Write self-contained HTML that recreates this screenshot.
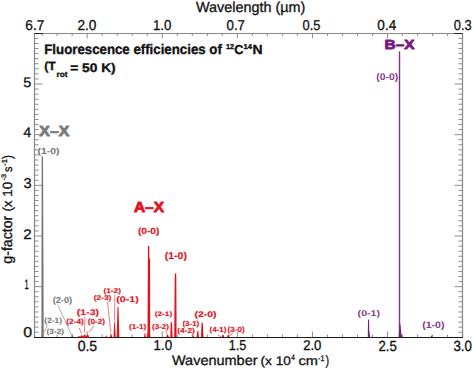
<!DOCTYPE html>
<html><head><meta charset="utf-8"><style>
html,body{margin:0;padding:0;background:#fff;width:473px;height:369px;overflow:hidden}
svg{display:block;font-family:'Liberation Sans', sans-serif;text-rendering:geometricPrecision}
</style></head><body>
<svg width="473" height="369" viewBox="0 0 473 369">
<rect width="473" height="369" fill="#fff"/>
<line x1="42.13" y1="337.5" x2="42.13" y2="334.5" stroke="#8e8e8e" stroke-width="1"/>
<line x1="42.13" y1="33.5" x2="42.13" y2="36.0" stroke="#8e8e8e" stroke-width="1"/>
<line x1="57.15" y1="337.5" x2="57.15" y2="334.5" stroke="#8e8e8e" stroke-width="1"/>
<line x1="57.15" y1="33.5" x2="57.15" y2="36.0" stroke="#8e8e8e" stroke-width="1"/>
<line x1="72.17" y1="337.5" x2="72.17" y2="334.5" stroke="#8e8e8e" stroke-width="1"/>
<line x1="72.17" y1="33.5" x2="72.17" y2="36.0" stroke="#8e8e8e" stroke-width="1"/>
<line x1="87.18" y1="337.5" x2="87.18" y2="331.5" stroke="#8e8e8e" stroke-width="1"/>
<line x1="87.18" y1="33.5" x2="87.18" y2="38.5" stroke="#8e8e8e" stroke-width="1"/>
<line x1="102.20" y1="337.5" x2="102.20" y2="334.5" stroke="#8e8e8e" stroke-width="1"/>
<line x1="102.20" y1="33.5" x2="102.20" y2="36.0" stroke="#8e8e8e" stroke-width="1"/>
<line x1="117.22" y1="337.5" x2="117.22" y2="334.5" stroke="#8e8e8e" stroke-width="1"/>
<line x1="117.22" y1="33.5" x2="117.22" y2="36.0" stroke="#8e8e8e" stroke-width="1"/>
<line x1="132.24" y1="337.5" x2="132.24" y2="334.5" stroke="#8e8e8e" stroke-width="1"/>
<line x1="132.24" y1="33.5" x2="132.24" y2="36.0" stroke="#8e8e8e" stroke-width="1"/>
<line x1="147.25" y1="337.5" x2="147.25" y2="334.5" stroke="#8e8e8e" stroke-width="1"/>
<line x1="147.25" y1="33.5" x2="147.25" y2="36.0" stroke="#8e8e8e" stroke-width="1"/>
<line x1="162.27" y1="337.5" x2="162.27" y2="331.5" stroke="#8e8e8e" stroke-width="1"/>
<line x1="162.27" y1="33.5" x2="162.27" y2="38.5" stroke="#8e8e8e" stroke-width="1"/>
<line x1="177.29" y1="337.5" x2="177.29" y2="334.5" stroke="#8e8e8e" stroke-width="1"/>
<line x1="177.29" y1="33.5" x2="177.29" y2="36.0" stroke="#8e8e8e" stroke-width="1"/>
<line x1="192.30" y1="337.5" x2="192.30" y2="334.5" stroke="#8e8e8e" stroke-width="1"/>
<line x1="192.30" y1="33.5" x2="192.30" y2="36.0" stroke="#8e8e8e" stroke-width="1"/>
<line x1="207.32" y1="337.5" x2="207.32" y2="334.5" stroke="#8e8e8e" stroke-width="1"/>
<line x1="207.32" y1="33.5" x2="207.32" y2="36.0" stroke="#8e8e8e" stroke-width="1"/>
<line x1="222.34" y1="337.5" x2="222.34" y2="334.5" stroke="#8e8e8e" stroke-width="1"/>
<line x1="222.34" y1="33.5" x2="222.34" y2="36.0" stroke="#8e8e8e" stroke-width="1"/>
<line x1="237.35" y1="337.5" x2="237.35" y2="331.5" stroke="#8e8e8e" stroke-width="1"/>
<line x1="237.35" y1="33.5" x2="237.35" y2="38.5" stroke="#8e8e8e" stroke-width="1"/>
<line x1="252.37" y1="337.5" x2="252.37" y2="334.5" stroke="#8e8e8e" stroke-width="1"/>
<line x1="252.37" y1="33.5" x2="252.37" y2="36.0" stroke="#8e8e8e" stroke-width="1"/>
<line x1="267.39" y1="337.5" x2="267.39" y2="334.5" stroke="#8e8e8e" stroke-width="1"/>
<line x1="267.39" y1="33.5" x2="267.39" y2="36.0" stroke="#8e8e8e" stroke-width="1"/>
<line x1="282.41" y1="337.5" x2="282.41" y2="334.5" stroke="#8e8e8e" stroke-width="1"/>
<line x1="282.41" y1="33.5" x2="282.41" y2="36.0" stroke="#8e8e8e" stroke-width="1"/>
<line x1="297.42" y1="337.5" x2="297.42" y2="334.5" stroke="#8e8e8e" stroke-width="1"/>
<line x1="297.42" y1="33.5" x2="297.42" y2="36.0" stroke="#8e8e8e" stroke-width="1"/>
<line x1="312.44" y1="337.5" x2="312.44" y2="331.5" stroke="#8e8e8e" stroke-width="1"/>
<line x1="312.44" y1="33.5" x2="312.44" y2="38.5" stroke="#8e8e8e" stroke-width="1"/>
<line x1="327.46" y1="337.5" x2="327.46" y2="334.5" stroke="#8e8e8e" stroke-width="1"/>
<line x1="327.46" y1="33.5" x2="327.46" y2="36.0" stroke="#8e8e8e" stroke-width="1"/>
<line x1="342.47" y1="337.5" x2="342.47" y2="334.5" stroke="#8e8e8e" stroke-width="1"/>
<line x1="342.47" y1="33.5" x2="342.47" y2="36.0" stroke="#8e8e8e" stroke-width="1"/>
<line x1="357.49" y1="337.5" x2="357.49" y2="334.5" stroke="#8e8e8e" stroke-width="1"/>
<line x1="357.49" y1="33.5" x2="357.49" y2="36.0" stroke="#8e8e8e" stroke-width="1"/>
<line x1="372.51" y1="337.5" x2="372.51" y2="334.5" stroke="#8e8e8e" stroke-width="1"/>
<line x1="372.51" y1="33.5" x2="372.51" y2="36.0" stroke="#8e8e8e" stroke-width="1"/>
<line x1="387.52" y1="337.5" x2="387.52" y2="331.5" stroke="#8e8e8e" stroke-width="1"/>
<line x1="387.52" y1="33.5" x2="387.52" y2="38.5" stroke="#8e8e8e" stroke-width="1"/>
<line x1="402.54" y1="337.5" x2="402.54" y2="334.5" stroke="#8e8e8e" stroke-width="1"/>
<line x1="402.54" y1="33.5" x2="402.54" y2="36.0" stroke="#8e8e8e" stroke-width="1"/>
<line x1="417.56" y1="337.5" x2="417.56" y2="334.5" stroke="#8e8e8e" stroke-width="1"/>
<line x1="417.56" y1="33.5" x2="417.56" y2="36.0" stroke="#8e8e8e" stroke-width="1"/>
<line x1="432.58" y1="337.5" x2="432.58" y2="334.5" stroke="#8e8e8e" stroke-width="1"/>
<line x1="432.58" y1="33.5" x2="432.58" y2="36.0" stroke="#8e8e8e" stroke-width="1"/>
<line x1="447.59" y1="337.5" x2="447.59" y2="334.5" stroke="#8e8e8e" stroke-width="1"/>
<line x1="447.59" y1="33.5" x2="447.59" y2="36.0" stroke="#8e8e8e" stroke-width="1"/>
<line x1="462.61" y1="337.5" x2="462.61" y2="331.5" stroke="#8e8e8e" stroke-width="1"/>
<line x1="462.61" y1="33.5" x2="462.61" y2="38.5" stroke="#8e8e8e" stroke-width="1"/>
<line x1="34.5" y1="332.23" x2="38.5" y2="332.23" stroke="#8e8e8e" stroke-width="1"/>
<line x1="462.5" y1="332.23" x2="458.5" y2="332.23" stroke="#8e8e8e" stroke-width="1"/>
<line x1="34.5" y1="327.17" x2="38.5" y2="327.17" stroke="#8e8e8e" stroke-width="1"/>
<line x1="462.5" y1="327.17" x2="458.5" y2="327.17" stroke="#8e8e8e" stroke-width="1"/>
<line x1="34.5" y1="322.10" x2="38.5" y2="322.10" stroke="#8e8e8e" stroke-width="1"/>
<line x1="462.5" y1="322.10" x2="458.5" y2="322.10" stroke="#8e8e8e" stroke-width="1"/>
<line x1="34.5" y1="317.04" x2="38.5" y2="317.04" stroke="#8e8e8e" stroke-width="1"/>
<line x1="462.5" y1="317.04" x2="458.5" y2="317.04" stroke="#8e8e8e" stroke-width="1"/>
<line x1="34.5" y1="311.97" x2="38.5" y2="311.97" stroke="#8e8e8e" stroke-width="1"/>
<line x1="462.5" y1="311.97" x2="458.5" y2="311.97" stroke="#8e8e8e" stroke-width="1"/>
<line x1="34.5" y1="306.90" x2="38.5" y2="306.90" stroke="#8e8e8e" stroke-width="1"/>
<line x1="462.5" y1="306.90" x2="458.5" y2="306.90" stroke="#8e8e8e" stroke-width="1"/>
<line x1="34.5" y1="301.84" x2="38.5" y2="301.84" stroke="#8e8e8e" stroke-width="1"/>
<line x1="462.5" y1="301.84" x2="458.5" y2="301.84" stroke="#8e8e8e" stroke-width="1"/>
<line x1="34.5" y1="296.77" x2="38.5" y2="296.77" stroke="#8e8e8e" stroke-width="1"/>
<line x1="462.5" y1="296.77" x2="458.5" y2="296.77" stroke="#8e8e8e" stroke-width="1"/>
<line x1="34.5" y1="291.71" x2="38.5" y2="291.71" stroke="#8e8e8e" stroke-width="1"/>
<line x1="462.5" y1="291.71" x2="458.5" y2="291.71" stroke="#8e8e8e" stroke-width="1"/>
<line x1="34.5" y1="286.64" x2="42.5" y2="286.64" stroke="#8e8e8e" stroke-width="1"/>
<line x1="462.5" y1="286.64" x2="454.5" y2="286.64" stroke="#8e8e8e" stroke-width="1"/>
<line x1="34.5" y1="281.57" x2="38.5" y2="281.57" stroke="#8e8e8e" stroke-width="1"/>
<line x1="462.5" y1="281.57" x2="458.5" y2="281.57" stroke="#8e8e8e" stroke-width="1"/>
<line x1="34.5" y1="276.51" x2="38.5" y2="276.51" stroke="#8e8e8e" stroke-width="1"/>
<line x1="462.5" y1="276.51" x2="458.5" y2="276.51" stroke="#8e8e8e" stroke-width="1"/>
<line x1="34.5" y1="271.44" x2="38.5" y2="271.44" stroke="#8e8e8e" stroke-width="1"/>
<line x1="462.5" y1="271.44" x2="458.5" y2="271.44" stroke="#8e8e8e" stroke-width="1"/>
<line x1="34.5" y1="266.38" x2="38.5" y2="266.38" stroke="#8e8e8e" stroke-width="1"/>
<line x1="462.5" y1="266.38" x2="458.5" y2="266.38" stroke="#8e8e8e" stroke-width="1"/>
<line x1="34.5" y1="261.31" x2="38.5" y2="261.31" stroke="#8e8e8e" stroke-width="1"/>
<line x1="462.5" y1="261.31" x2="458.5" y2="261.31" stroke="#8e8e8e" stroke-width="1"/>
<line x1="34.5" y1="256.24" x2="38.5" y2="256.24" stroke="#8e8e8e" stroke-width="1"/>
<line x1="462.5" y1="256.24" x2="458.5" y2="256.24" stroke="#8e8e8e" stroke-width="1"/>
<line x1="34.5" y1="251.18" x2="38.5" y2="251.18" stroke="#8e8e8e" stroke-width="1"/>
<line x1="462.5" y1="251.18" x2="458.5" y2="251.18" stroke="#8e8e8e" stroke-width="1"/>
<line x1="34.5" y1="246.11" x2="38.5" y2="246.11" stroke="#8e8e8e" stroke-width="1"/>
<line x1="462.5" y1="246.11" x2="458.5" y2="246.11" stroke="#8e8e8e" stroke-width="1"/>
<line x1="34.5" y1="241.05" x2="38.5" y2="241.05" stroke="#8e8e8e" stroke-width="1"/>
<line x1="462.5" y1="241.05" x2="458.5" y2="241.05" stroke="#8e8e8e" stroke-width="1"/>
<line x1="34.5" y1="235.98" x2="42.5" y2="235.98" stroke="#8e8e8e" stroke-width="1"/>
<line x1="462.5" y1="235.98" x2="454.5" y2="235.98" stroke="#8e8e8e" stroke-width="1"/>
<line x1="34.5" y1="230.91" x2="38.5" y2="230.91" stroke="#8e8e8e" stroke-width="1"/>
<line x1="462.5" y1="230.91" x2="458.5" y2="230.91" stroke="#8e8e8e" stroke-width="1"/>
<line x1="34.5" y1="225.85" x2="38.5" y2="225.85" stroke="#8e8e8e" stroke-width="1"/>
<line x1="462.5" y1="225.85" x2="458.5" y2="225.85" stroke="#8e8e8e" stroke-width="1"/>
<line x1="34.5" y1="220.78" x2="38.5" y2="220.78" stroke="#8e8e8e" stroke-width="1"/>
<line x1="462.5" y1="220.78" x2="458.5" y2="220.78" stroke="#8e8e8e" stroke-width="1"/>
<line x1="34.5" y1="215.72" x2="38.5" y2="215.72" stroke="#8e8e8e" stroke-width="1"/>
<line x1="462.5" y1="215.72" x2="458.5" y2="215.72" stroke="#8e8e8e" stroke-width="1"/>
<line x1="34.5" y1="210.65" x2="38.5" y2="210.65" stroke="#8e8e8e" stroke-width="1"/>
<line x1="462.5" y1="210.65" x2="458.5" y2="210.65" stroke="#8e8e8e" stroke-width="1"/>
<line x1="34.5" y1="205.58" x2="38.5" y2="205.58" stroke="#8e8e8e" stroke-width="1"/>
<line x1="462.5" y1="205.58" x2="458.5" y2="205.58" stroke="#8e8e8e" stroke-width="1"/>
<line x1="34.5" y1="200.52" x2="38.5" y2="200.52" stroke="#8e8e8e" stroke-width="1"/>
<line x1="462.5" y1="200.52" x2="458.5" y2="200.52" stroke="#8e8e8e" stroke-width="1"/>
<line x1="34.5" y1="195.45" x2="38.5" y2="195.45" stroke="#8e8e8e" stroke-width="1"/>
<line x1="462.5" y1="195.45" x2="458.5" y2="195.45" stroke="#8e8e8e" stroke-width="1"/>
<line x1="34.5" y1="190.39" x2="38.5" y2="190.39" stroke="#8e8e8e" stroke-width="1"/>
<line x1="462.5" y1="190.39" x2="458.5" y2="190.39" stroke="#8e8e8e" stroke-width="1"/>
<line x1="34.5" y1="185.32" x2="42.5" y2="185.32" stroke="#8e8e8e" stroke-width="1"/>
<line x1="462.5" y1="185.32" x2="454.5" y2="185.32" stroke="#8e8e8e" stroke-width="1"/>
<line x1="34.5" y1="180.25" x2="38.5" y2="180.25" stroke="#8e8e8e" stroke-width="1"/>
<line x1="462.5" y1="180.25" x2="458.5" y2="180.25" stroke="#8e8e8e" stroke-width="1"/>
<line x1="34.5" y1="175.19" x2="38.5" y2="175.19" stroke="#8e8e8e" stroke-width="1"/>
<line x1="462.5" y1="175.19" x2="458.5" y2="175.19" stroke="#8e8e8e" stroke-width="1"/>
<line x1="34.5" y1="170.12" x2="38.5" y2="170.12" stroke="#8e8e8e" stroke-width="1"/>
<line x1="462.5" y1="170.12" x2="458.5" y2="170.12" stroke="#8e8e8e" stroke-width="1"/>
<line x1="34.5" y1="165.06" x2="38.5" y2="165.06" stroke="#8e8e8e" stroke-width="1"/>
<line x1="462.5" y1="165.06" x2="458.5" y2="165.06" stroke="#8e8e8e" stroke-width="1"/>
<line x1="34.5" y1="159.99" x2="38.5" y2="159.99" stroke="#8e8e8e" stroke-width="1"/>
<line x1="462.5" y1="159.99" x2="458.5" y2="159.99" stroke="#8e8e8e" stroke-width="1"/>
<line x1="34.5" y1="154.92" x2="38.5" y2="154.92" stroke="#8e8e8e" stroke-width="1"/>
<line x1="462.5" y1="154.92" x2="458.5" y2="154.92" stroke="#8e8e8e" stroke-width="1"/>
<line x1="34.5" y1="149.86" x2="38.5" y2="149.86" stroke="#8e8e8e" stroke-width="1"/>
<line x1="462.5" y1="149.86" x2="458.5" y2="149.86" stroke="#8e8e8e" stroke-width="1"/>
<line x1="34.5" y1="144.79" x2="38.5" y2="144.79" stroke="#8e8e8e" stroke-width="1"/>
<line x1="462.5" y1="144.79" x2="458.5" y2="144.79" stroke="#8e8e8e" stroke-width="1"/>
<line x1="34.5" y1="139.73" x2="38.5" y2="139.73" stroke="#8e8e8e" stroke-width="1"/>
<line x1="462.5" y1="139.73" x2="458.5" y2="139.73" stroke="#8e8e8e" stroke-width="1"/>
<line x1="34.5" y1="134.66" x2="42.5" y2="134.66" stroke="#8e8e8e" stroke-width="1"/>
<line x1="462.5" y1="134.66" x2="454.5" y2="134.66" stroke="#8e8e8e" stroke-width="1"/>
<line x1="34.5" y1="129.59" x2="38.5" y2="129.59" stroke="#8e8e8e" stroke-width="1"/>
<line x1="462.5" y1="129.59" x2="458.5" y2="129.59" stroke="#8e8e8e" stroke-width="1"/>
<line x1="34.5" y1="124.53" x2="38.5" y2="124.53" stroke="#8e8e8e" stroke-width="1"/>
<line x1="462.5" y1="124.53" x2="458.5" y2="124.53" stroke="#8e8e8e" stroke-width="1"/>
<line x1="34.5" y1="119.46" x2="38.5" y2="119.46" stroke="#8e8e8e" stroke-width="1"/>
<line x1="462.5" y1="119.46" x2="458.5" y2="119.46" stroke="#8e8e8e" stroke-width="1"/>
<line x1="34.5" y1="114.40" x2="38.5" y2="114.40" stroke="#8e8e8e" stroke-width="1"/>
<line x1="462.5" y1="114.40" x2="458.5" y2="114.40" stroke="#8e8e8e" stroke-width="1"/>
<line x1="34.5" y1="109.33" x2="38.5" y2="109.33" stroke="#8e8e8e" stroke-width="1"/>
<line x1="462.5" y1="109.33" x2="458.5" y2="109.33" stroke="#8e8e8e" stroke-width="1"/>
<line x1="34.5" y1="104.26" x2="38.5" y2="104.26" stroke="#8e8e8e" stroke-width="1"/>
<line x1="462.5" y1="104.26" x2="458.5" y2="104.26" stroke="#8e8e8e" stroke-width="1"/>
<line x1="34.5" y1="99.20" x2="38.5" y2="99.20" stroke="#8e8e8e" stroke-width="1"/>
<line x1="462.5" y1="99.20" x2="458.5" y2="99.20" stroke="#8e8e8e" stroke-width="1"/>
<line x1="34.5" y1="94.13" x2="38.5" y2="94.13" stroke="#8e8e8e" stroke-width="1"/>
<line x1="462.5" y1="94.13" x2="458.5" y2="94.13" stroke="#8e8e8e" stroke-width="1"/>
<line x1="34.5" y1="89.07" x2="38.5" y2="89.07" stroke="#8e8e8e" stroke-width="1"/>
<line x1="462.5" y1="89.07" x2="458.5" y2="89.07" stroke="#8e8e8e" stroke-width="1"/>
<line x1="34.5" y1="84.00" x2="42.5" y2="84.00" stroke="#8e8e8e" stroke-width="1"/>
<line x1="462.5" y1="84.00" x2="454.5" y2="84.00" stroke="#8e8e8e" stroke-width="1"/>
<line x1="34.5" y1="78.93" x2="38.5" y2="78.93" stroke="#8e8e8e" stroke-width="1"/>
<line x1="462.5" y1="78.93" x2="458.5" y2="78.93" stroke="#8e8e8e" stroke-width="1"/>
<line x1="34.5" y1="73.87" x2="38.5" y2="73.87" stroke="#8e8e8e" stroke-width="1"/>
<line x1="462.5" y1="73.87" x2="458.5" y2="73.87" stroke="#8e8e8e" stroke-width="1"/>
<line x1="34.5" y1="68.80" x2="38.5" y2="68.80" stroke="#8e8e8e" stroke-width="1"/>
<line x1="462.5" y1="68.80" x2="458.5" y2="68.80" stroke="#8e8e8e" stroke-width="1"/>
<line x1="34.5" y1="63.74" x2="38.5" y2="63.74" stroke="#8e8e8e" stroke-width="1"/>
<line x1="462.5" y1="63.74" x2="458.5" y2="63.74" stroke="#8e8e8e" stroke-width="1"/>
<line x1="34.5" y1="58.67" x2="38.5" y2="58.67" stroke="#8e8e8e" stroke-width="1"/>
<line x1="462.5" y1="58.67" x2="458.5" y2="58.67" stroke="#8e8e8e" stroke-width="1"/>
<line x1="34.5" y1="53.60" x2="38.5" y2="53.60" stroke="#8e8e8e" stroke-width="1"/>
<line x1="462.5" y1="53.60" x2="458.5" y2="53.60" stroke="#8e8e8e" stroke-width="1"/>
<line x1="34.5" y1="48.54" x2="38.5" y2="48.54" stroke="#8e8e8e" stroke-width="1"/>
<line x1="462.5" y1="48.54" x2="458.5" y2="48.54" stroke="#8e8e8e" stroke-width="1"/>
<line x1="34.5" y1="43.47" x2="38.5" y2="43.47" stroke="#8e8e8e" stroke-width="1"/>
<line x1="462.5" y1="43.47" x2="458.5" y2="43.47" stroke="#8e8e8e" stroke-width="1"/>
<line x1="34.5" y1="38.41" x2="38.5" y2="38.41" stroke="#8e8e8e" stroke-width="1"/>
<line x1="462.5" y1="38.41" x2="458.5" y2="38.41" stroke="#8e8e8e" stroke-width="1"/>
<path d="M34.5 337.5V33.5H462.5V337.5" fill="none" stroke="#888" stroke-width="1.2"/>
<line x1="34.5" y1="33.5" x2="42.8" y2="33.5" stroke="#222" stroke-width="1"/>
<line x1="454.3" y1="33.5" x2="462.5" y2="33.5" stroke="#222" stroke-width="1"/>
<line x1="34.0" y1="337.5" x2="463.0" y2="337.5" stroke="#1a1a1a" stroke-width="1.05"/>
<polygon points="41.70,156.30 43.00,156.30 43.70,337.20 41.40,337.20" fill="#737373"/>
<polygon points="72.10,334.50 72.50,334.50 73.40,337.00 71.20,337.00" fill="#7a7a7a"/>
<line x1="57.6" y1="304.6" x2="71.8" y2="335.5" stroke="#7a7a7a" stroke-width="0.6"/>
<line x1="47.4" y1="325.2" x2="44.2" y2="332.5" stroke="#7a7a7a" stroke-width="0.6"/>
<polygon points="147.90,246.00 149.30,246.00 149.30,258.40 150.10,258.40 150.20,332.00 150.40,337.20 146.80,337.20 147.50,332.00 147.90,258.40" fill="#e0141e"/>
<polygon points="174.90,273.60 176.20,273.60 176.30,278.00 176.60,337.20 174.20,337.20 174.70,278.00" fill="#e0141e"/>
<polygon points="117.50,307.00 118.50,307.00 119.30,337.00 116.70,337.00" fill="#e0141e"/>
<polygon points="114.20,322.30 115.00,322.30 115.70,337.00 113.50,337.00" fill="#e0141e"/>
<polygon points="110.70,333.50 111.30,333.50 112.00,337.00 110.00,337.00" fill="#e0141e"/>
<polygon points="106.05,335.50 106.55,335.50 107.00,337.00 105.60,337.00" fill="#e0141e"/>
<polygon points="170.70,322.20 172.00,322.20 172.60,337.20 170.30,337.20" fill="#e0141e"/>
<polygon points="201.60,322.80 202.80,322.80 203.50,337.00 200.90,337.00" fill="#e0141e"/>
<polygon points="197.30,331.00 198.30,331.00 199.00,337.00 196.60,337.00" fill="#e0141e"/>
<polygon points="144.70,333.00 145.30,333.00 145.90,337.00 144.10,337.00" fill="#e0141e"/>
<polygon points="192.95,335.00 193.45,335.00 193.90,337.00 192.50,337.00" fill="#e0141e"/>
<ellipse cx="81.9" cy="336.6" rx="1.1" ry="1.3" fill="#e0141e"/>
<ellipse cx="84.7" cy="336.2" rx="1.1" ry="1.8" fill="#e0141e"/>
<ellipse cx="87.6" cy="336.2" rx="1.1" ry="1.8" fill="#e0141e"/>
<rect x="78" y="336.4" width="10.8" height="0.8" fill="#e0141e"/>
<ellipse cx="167.5" cy="336.3" rx="1.1" ry="1.2" fill="#e0141e"/>
<polygon points="222.50,335.00 223.70,335.00 224.20,337.00 222.00,337.00" fill="#e0141e"/>
<polygon points="227.70,334.80 228.90,334.80 229.50,337.00 227.10,337.00" fill="#e0141e"/>
<line x1="79.3" y1="328.0" x2="81.5" y2="333.7" stroke="#e0141e" stroke-width="0.55"/>
<line x1="85.0" y1="316.8" x2="84.4" y2="332.5" stroke="#e0141e" stroke-width="0.55"/>
<line x1="94.2" y1="325.2" x2="89.1" y2="332.5" stroke="#e0141e" stroke-width="0.55"/>
<line x1="114.9" y1="295.0" x2="114.4" y2="321.0" stroke="#e0141e" stroke-width="0.55"/>
<line x1="107.5" y1="302.0" x2="110.8" y2="332.5" stroke="#e0141e" stroke-width="0.55"/>
<line x1="165.5" y1="330.5" x2="167.5" y2="335.0" stroke="#e0141e" stroke-width="0.55"/>
<line x1="217.7" y1="334.8" x2="221.5" y2="337.0" stroke="#e0141e" stroke-width="0.55"/>
<line x1="233.0" y1="333.6" x2="229.1" y2="336.0" stroke="#e0141e" stroke-width="0.55"/>
<rect x="398.8" y="51.4" width="1.4" height="286" fill="#84308a"/>
<polygon points="399.60,324.00 400.40,324.00 401.30,333.00 402.20,337.20 398.60,337.20" fill="#7a1a7e"/>
<polygon points="368.00,319.50 369.10,319.50 369.20,330.00 370.20,337.20 367.80,337.20" fill="#7a1a7e"/>
<polygon points="431.30,335.60 431.90,335.60 432.40,337.00 430.80,337.00" fill="#7a1a7e"/>
<text x="195.92" y="11.76" font-size="14.54" font-weight="normal" fill="#111" textLength="109.49" lengthAdjust="spacingAndGlyphs" stroke="#111" stroke-width="0.3" stroke-linejoin="round">Wavelength (µm)</text>
<text x="171.97" y="364.94" font-size="13.85" font-weight="normal" fill="#111" textLength="85.54" lengthAdjust="spacingAndGlyphs" stroke="#111" stroke-width="0.3" stroke-linejoin="round">Wavenumber</text>
<text x="260.54" y="364.95" font-size="12.46" font-weight="normal" fill="#111" textLength="30.26" lengthAdjust="spacingAndGlyphs" stroke="#111" stroke-width="0.3" stroke-linejoin="round">(x 10</text>
<text x="291.30" y="360.02" font-size="8.03" font-weight="normal" fill="#111" textLength="3.63" lengthAdjust="spacingAndGlyphs" stroke="#111" stroke-width="0.3" stroke-linejoin="round">4</text>
<text x="298.42" y="364.98" font-size="12.79" font-weight="normal" fill="#111" textLength="19.45" lengthAdjust="spacingAndGlyphs" stroke="#111" stroke-width="0.3" stroke-linejoin="round">cm</text>
<text x="318.08" y="360.70" font-size="7.97" font-weight="normal" fill="#111" textLength="6.36" lengthAdjust="spacingAndGlyphs" stroke="#111" stroke-width="0.3" stroke-linejoin="round">-1</text>
<text x="325.41" y="365.04" font-size="13.74" font-weight="normal" fill="#111" textLength="3.64" lengthAdjust="spacingAndGlyphs" stroke="#111" stroke-width="0.3" stroke-linejoin="round">)</text>
<text transform="rotate(-90)" x="-263.71" y="11.87" font-size="14.59" font-weight="normal" fill="#111" textLength="48.00" lengthAdjust="spacingAndGlyphs" stroke="#111" stroke-width="0.3" stroke-linejoin="round">g-factor</text>
<text transform="rotate(-90)" x="-211.62" y="11.96" font-size="13.38" font-weight="normal" fill="#111" textLength="29.89" lengthAdjust="spacingAndGlyphs" stroke="#111" stroke-width="0.3" stroke-linejoin="round">(x 10</text>
<text transform="rotate(-90)" x="-180.43" y="6.24" font-size="6.70" font-weight="normal" fill="#111" textLength="6.55" lengthAdjust="spacingAndGlyphs" stroke="#111" stroke-width="0.3" stroke-linejoin="round">-3</text>
<text transform="rotate(-90)" x="-171.90" y="12.12" font-size="12.48" font-weight="normal" fill="#111" textLength="5.45" lengthAdjust="spacingAndGlyphs" stroke="#111" stroke-width="0.3" stroke-linejoin="round">s</text>
<text transform="rotate(-90)" x="-165.83" y="6.90" font-size="7.54" font-weight="normal" fill="#111" textLength="6.58" lengthAdjust="spacingAndGlyphs" stroke="#111" stroke-width="0.3" stroke-linejoin="round">-1</text>
<text transform="rotate(-90)" x="-158.92" y="11.64" font-size="13.91" font-weight="normal" fill="#111" textLength="3.94" lengthAdjust="spacingAndGlyphs" stroke="#111" stroke-width="0.3" stroke-linejoin="round">)</text>
<text x="44.25" y="54.35" font-size="13.94" font-weight="bold" fill="#111" textLength="177.58" lengthAdjust="spacingAndGlyphs" stroke="#111" stroke-width="0.35" stroke-linejoin="round">Fluorescence efficiencies of</text>
<text x="226.06" y="49.34" font-size="7.19" font-weight="bold" fill="#111" textLength="8.05" lengthAdjust="spacingAndGlyphs" stroke="#111" stroke-width="0.35" stroke-linejoin="round">12</text>
<text x="234.29" y="53.92" font-size="12.92" font-weight="bold" fill="#111" textLength="9.21" lengthAdjust="spacingAndGlyphs" stroke="#111" stroke-width="0.35" stroke-linejoin="round">C</text>
<text x="243.54" y="49.39" font-size="7.15" font-weight="bold" fill="#111" textLength="8.56" lengthAdjust="spacingAndGlyphs" stroke="#111" stroke-width="0.35" stroke-linejoin="round">14</text>
<text x="252.55" y="53.77" font-size="13.04" font-weight="bold" fill="#111" textLength="10.10" lengthAdjust="spacingAndGlyphs" stroke="#111" stroke-width="0.35" stroke-linejoin="round">N</text>
<text x="44.21" y="70.16" font-size="11.87" font-weight="bold" fill="#111" textLength="11.57" lengthAdjust="spacingAndGlyphs" stroke="#111" stroke-width="0.35" stroke-linejoin="round">(T</text>
<text x="56.53" y="76.98" font-size="7.86" font-weight="bold" fill="#111" textLength="10.98" lengthAdjust="spacingAndGlyphs" stroke="#111" stroke-width="0.35" stroke-linejoin="round">rot</text>
<text x="70.22" y="71.60" font-size="12.41" font-weight="bold" fill="#111" textLength="45.47" lengthAdjust="spacingAndGlyphs" stroke="#111" stroke-width="0.35" stroke-linejoin="round">= 50 K)</text>
<text x="77.64" y="350.66" font-size="14.68" font-weight="normal" fill="#111" textLength="19.56" lengthAdjust="spacingAndGlyphs" stroke="#111" stroke-width="0.3" stroke-linejoin="round">0.5</text>
<text x="153.53" y="350.49" font-size="14.29" font-weight="normal" fill="#111" textLength="18.55" lengthAdjust="spacingAndGlyphs" stroke="#111" stroke-width="0.3" stroke-linejoin="round">1.0</text>
<text x="228.84" y="350.22" font-size="14.41" font-weight="normal" fill="#111" textLength="17.57" lengthAdjust="spacingAndGlyphs" stroke="#111" stroke-width="0.3" stroke-linejoin="round">1.5</text>
<text x="303.18" y="350.37" font-size="14.14" font-weight="normal" fill="#111" textLength="18.25" lengthAdjust="spacingAndGlyphs" stroke="#111" stroke-width="0.3" stroke-linejoin="round">2.0</text>
<text x="378.43" y="350.66" font-size="14.69" font-weight="normal" fill="#111" textLength="18.32" lengthAdjust="spacingAndGlyphs" stroke="#111" stroke-width="0.3" stroke-linejoin="round">2.5</text>
<text x="453.41" y="350.66" font-size="14.66" font-weight="normal" fill="#111" textLength="18.51" lengthAdjust="spacingAndGlyphs" stroke="#111" stroke-width="0.3" stroke-linejoin="round">3.0</text>
<text x="25.35" y="30.12" font-size="14.24" font-weight="normal" fill="#111" textLength="19.09" lengthAdjust="spacingAndGlyphs" stroke="#111" stroke-width="0.3" stroke-linejoin="round">6.7</text>
<text x="77.45" y="29.56" font-size="14.30" font-weight="normal" fill="#111" textLength="18.99" lengthAdjust="spacingAndGlyphs" stroke="#111" stroke-width="0.3" stroke-linejoin="round">2.0</text>
<text x="153.00" y="29.93" font-size="14.31" font-weight="normal" fill="#111" textLength="18.41" lengthAdjust="spacingAndGlyphs" stroke="#111" stroke-width="0.3" stroke-linejoin="round">1.0</text>
<text x="226.53" y="30.29" font-size="14.17" font-weight="normal" fill="#111" textLength="18.45" lengthAdjust="spacingAndGlyphs" stroke="#111" stroke-width="0.3" stroke-linejoin="round">0.7</text>
<text x="302.47" y="30.07" font-size="14.18" font-weight="normal" fill="#111" textLength="17.89" lengthAdjust="spacingAndGlyphs" stroke="#111" stroke-width="0.3" stroke-linejoin="round">0.5</text>
<text x="377.36" y="29.96" font-size="14.47" font-weight="normal" fill="#111" textLength="18.83" lengthAdjust="spacingAndGlyphs" stroke="#111" stroke-width="0.3" stroke-linejoin="round">0.4</text>
<text x="453.83" y="29.58" font-size="14.32" font-weight="normal" fill="#111" textLength="17.88" lengthAdjust="spacingAndGlyphs" stroke="#111" stroke-width="0.3" stroke-linejoin="round">0.3</text>
<text x="23.16" y="336.77" font-size="14.26" font-weight="normal" fill="#111" textLength="8.87" lengthAdjust="spacingAndGlyphs" stroke="#111" stroke-width="0.3" stroke-linejoin="round">0</text>
<text x="24.42" y="289.10" font-size="13.78" font-weight="normal" fill="#111" textLength="4.19" lengthAdjust="spacingAndGlyphs" stroke="#111" stroke-width="0.3" stroke-linejoin="round">1</text>
<text x="23.29" y="239.15" font-size="14.01" font-weight="normal" fill="#111" textLength="8.46" lengthAdjust="spacingAndGlyphs" stroke="#111" stroke-width="0.3" stroke-linejoin="round">2</text>
<text x="23.45" y="187.96" font-size="14.39" font-weight="normal" fill="#111" textLength="8.11" lengthAdjust="spacingAndGlyphs" stroke="#111" stroke-width="0.3" stroke-linejoin="round">3</text>
<text x="23.25" y="137.40" font-size="13.94" font-weight="normal" fill="#111" textLength="8.04" lengthAdjust="spacingAndGlyphs" stroke="#111" stroke-width="0.3" stroke-linejoin="round">4</text>
<text x="23.22" y="86.81" font-size="13.71" font-weight="normal" fill="#111" textLength="8.05" lengthAdjust="spacingAndGlyphs" stroke="#111" stroke-width="0.3" stroke-linejoin="round">5</text>
<text x="39.34" y="136.07" font-size="14.55" font-weight="bold" fill="#7a7a7a" textLength="29.91" lengthAdjust="spacingAndGlyphs" stroke="#7a7a7a" stroke-width="0.9" stroke-linejoin="round">X–X</text>
<text x="37.47" y="154.08" font-size="8.66" font-weight="bold" fill="#7a7a7a" textLength="22.04" lengthAdjust="spacingAndGlyphs" stroke="#7a7a7a" stroke-width="0.1" stroke-linejoin="round">(1-0)</text>
<text x="52.67" y="302.84" font-size="8.75" font-weight="bold" fill="#7a7a7a" textLength="19.44" lengthAdjust="spacingAndGlyphs" stroke="#7a7a7a" stroke-width="0.1" stroke-linejoin="round">(2-0)</text>
<text x="44.36" y="322.82" font-size="7.68" font-weight="bold" fill="#7a7a7a" textLength="17.73" lengthAdjust="spacingAndGlyphs" stroke="#7a7a7a" stroke-width="0.1" stroke-linejoin="round">(2-1)</text>
<text x="46.58" y="333.76" font-size="7.55" font-weight="bold" fill="#7a7a7a" textLength="17.42" lengthAdjust="spacingAndGlyphs" stroke="#7a7a7a" stroke-width="0.1" stroke-linejoin="round">(3-2)</text>
<text x="133.93" y="212.07" font-size="14.55" font-weight="bold" fill="#e0141e" textLength="30.03" lengthAdjust="spacingAndGlyphs" stroke="#e0141e" stroke-width="0.9" stroke-linejoin="round">A–X</text>
<text x="137.93" y="234.08" font-size="8.96" font-weight="bold" fill="#e0141e" textLength="21.49" lengthAdjust="spacingAndGlyphs" stroke="#e0141e" stroke-width="0.15" stroke-linejoin="round">(0-0)</text>
<text x="164.67" y="258.94" font-size="9.84" font-weight="bold" fill="#e0141e" textLength="22.35" lengthAdjust="spacingAndGlyphs" stroke="#e0141e" stroke-width="0.15" stroke-linejoin="round">(1-0)</text>
<text x="76.87" y="314.59" font-size="8.13" font-weight="bold" fill="#e0141e" textLength="22.14" lengthAdjust="spacingAndGlyphs" stroke="#e0141e" stroke-width="0.15" stroke-linejoin="round">(1-3)</text>
<text x="66.25" y="323.97" font-size="7.46" font-weight="bold" fill="#e0141e" textLength="17.56" lengthAdjust="spacingAndGlyphs" stroke="#e0141e" stroke-width="0.15" stroke-linejoin="round">(2-4)</text>
<text x="87.70" y="323.97" font-size="7.46" font-weight="bold" fill="#e0141e" textLength="17.32" lengthAdjust="spacingAndGlyphs" stroke="#e0141e" stroke-width="0.15" stroke-linejoin="round">(0-2)</text>
<text x="103.45" y="293.46" font-size="6.85" font-weight="bold" fill="#e0141e" textLength="17.58" lengthAdjust="spacingAndGlyphs" stroke="#e0141e" stroke-width="0.15" stroke-linejoin="round">(1-2)</text>
<text x="93.73" y="299.55" font-size="6.80" font-weight="bold" fill="#e0141e" textLength="17.60" lengthAdjust="spacingAndGlyphs" stroke="#e0141e" stroke-width="0.15" stroke-linejoin="round">(2-3)</text>
<text x="116.26" y="302.25" font-size="8.34" font-weight="bold" fill="#e0141e" textLength="22.67" lengthAdjust="spacingAndGlyphs" stroke="#e0141e" stroke-width="0.15" stroke-linejoin="round">(0-1)</text>
<text x="128.98" y="328.98" font-size="7.06" font-weight="bold" fill="#e0141e" textLength="17.33" lengthAdjust="spacingAndGlyphs" stroke="#e0141e" stroke-width="0.15" stroke-linejoin="round">(1-1)</text>
<text x="151.98" y="328.65" font-size="7.00" font-weight="bold" fill="#e0141e" textLength="17.08" lengthAdjust="spacingAndGlyphs" stroke="#e0141e" stroke-width="0.15" stroke-linejoin="round">(3-2)</text>
<text x="154.78" y="315.72" font-size="6.56" font-weight="bold" fill="#e0141e" textLength="17.41" lengthAdjust="spacingAndGlyphs" stroke="#e0141e" stroke-width="0.15" stroke-linejoin="round">(2-1)</text>
<text x="194.47" y="317.19" font-size="8.24" font-weight="bold" fill="#e0141e" textLength="22.05" lengthAdjust="spacingAndGlyphs" stroke="#e0141e" stroke-width="0.15" stroke-linejoin="round">(2-0)</text>
<text x="182.46" y="326.05" font-size="7.12" font-weight="bold" fill="#e0141e" textLength="16.83" lengthAdjust="spacingAndGlyphs" stroke="#e0141e" stroke-width="0.15" stroke-linejoin="round">(3-1)</text>
<text x="177.18" y="333.27" font-size="7.27" font-weight="bold" fill="#e0141e" textLength="17.74" lengthAdjust="spacingAndGlyphs" stroke="#e0141e" stroke-width="0.15" stroke-linejoin="round">(4-2)</text>
<text x="209.52" y="332.06" font-size="7.16" font-weight="bold" fill="#e0141e" textLength="16.84" lengthAdjust="spacingAndGlyphs" stroke="#e0141e" stroke-width="0.15" stroke-linejoin="round">(4-1)</text>
<text x="227.59" y="332.10" font-size="7.51" font-weight="bold" fill="#e0141e" textLength="16.99" lengthAdjust="spacingAndGlyphs" stroke="#e0141e" stroke-width="0.15" stroke-linejoin="round">(3-0)</text>
<text x="384.60" y="48.96" font-size="13.21" font-weight="bold" fill="#7a1a7e" textLength="29.84" lengthAdjust="spacingAndGlyphs" stroke="#7a1a7e" stroke-width="0.9" stroke-linejoin="round">B–X</text>
<text x="376.28" y="80.18" font-size="9.63" font-weight="bold" fill="#86388c" textLength="21.93" lengthAdjust="spacingAndGlyphs" stroke="#86388c" stroke-width="0" stroke-linejoin="round">(0-0)</text>
<text x="357.62" y="315.61" font-size="8.35" font-weight="bold" fill="#86388c" textLength="22.35" lengthAdjust="spacingAndGlyphs" stroke="#86388c" stroke-width="0" stroke-linejoin="round">(0-1)</text>
<text x="422.17" y="328.37" font-size="9.20" font-weight="bold" fill="#86388c" textLength="22.35" lengthAdjust="spacingAndGlyphs" stroke="#86388c" stroke-width="0" stroke-linejoin="round">(1-0)</text>
</svg>
</body></html>
